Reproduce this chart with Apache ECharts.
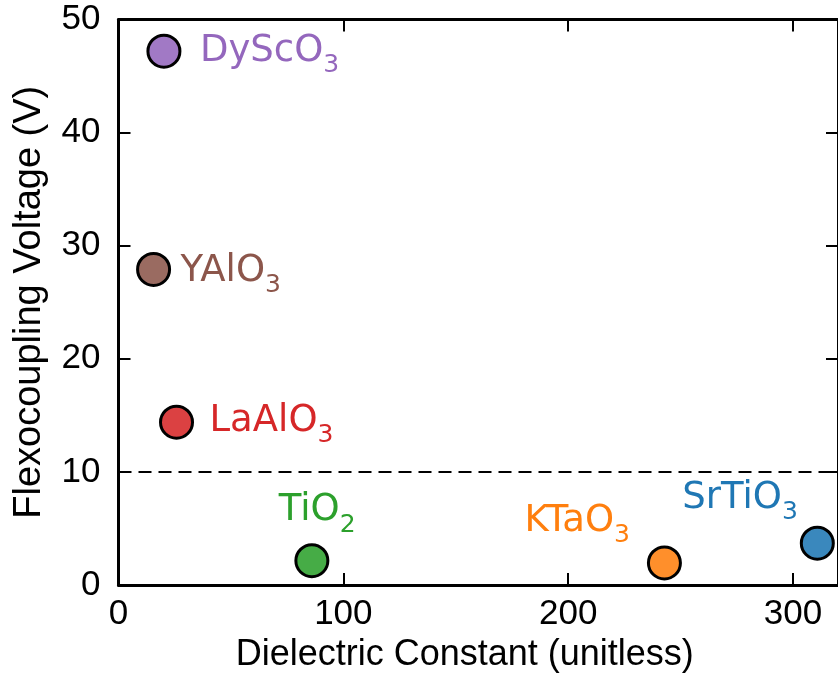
<!DOCTYPE html>
<html>
<head>
<meta charset="utf-8">
<script src="https://cdn.jsdelivr.net/npm/echarts@6/dist/echarts.min.js"></script>
<style>
html,body{margin:0;padding:0;background:#fff;}
#chart{width:838px;height:685px;}
</style>
</head>
<body>
<div id="chart"></div>
<script>
// Data
const materials = ['DyScO', 'YAlO', 'LaAlO', 'TiO', 'KTaO', 'SrTiO'];
const subscripts = ['3', '3', '3', '2', '3', '3'];
const dielectric = [20.2, 15.6, 25.8, 86.0, 242.8, 310.8];
const voltage = [47.2, 27.9, 14.4, 2.15, 1.95, 3.7];
const colors = ['#9467bd', '#8c564b', '#d62728', '#2ca02c', '#ff7f0e', '#1f77b4'];
const thresholdVoltage = 10;
const xTicks = [0, 100, 200, 300];
const yTicks = [0, 10, 20, 30, 40, 50];

// label offsets (style) relative to marker centre
const labelOffsets = [[36, 0], [27, 2], [33, -1], [-33, -50], [-140, -42], [-135, -45]];

function hexToRgba(hex, a) {
  const r = parseInt(hex.slice(1, 3), 16), g = parseInt(hex.slice(3, 5), 16), b = parseInt(hex.slice(5, 7), 16);
  return 'rgba(' + r + ',' + g + ',' + b + ',' + a + ')';
}

const richBase = (c) => ({
  m: { fontFamily: 'DejaVu Sans', fontSize: 37, color: c, lineHeight: 54, verticalAlign: 'middle' },
  s: { fontFamily: 'DejaVu Sans', fontSize: 25, color: c, lineHeight: 26, verticalAlign: 'bottom' }
});

const data = materials.map((m, i) => ({
  value: [dielectric[i], voltage[i]],
  itemStyle: { color: hexToRgba(colors[i], 0.88), borderColor: '#000', borderWidth: 3, opacity: 1 },
  label: {
    show: true,
    position: 'inside',
    align: 'left',
    verticalAlign: 'middle',
    offset: labelOffsets[i],
    formatter: '{m|' + m + '}{s|' + subscripts[i] + '}',
    rich: richBase(colors[i])
  }
}));

const axisLabelFont = { fontFamily: 'Liberation Sans, Arial, sans-serif', fontSize: 35, color: '#000' };

const chart = echarts.init(document.getElementById('chart'), null, { renderer: 'canvas' });
chart.setOption({
  animation: false,
  backgroundColor: '#fff',
  grid: { left: 118.5, top: 19.5, width: 723.4, height: 565.5, containLabel: false },
  xAxis: [{
    type: 'value', min: 0, max: 320, interval: 100,
    name: 'Dielectric Constant (unitless)', nameLocation: 'middle', nameGap: 50,
    nameTextStyle: Object.assign({}, axisLabelFont, { fontSize: 36, padding: [0, 27, 0, 0] }),
    axisLine: { show: true, lineStyle: { color: '#000', width: 3 } },
    axisTick: { show: true, inside: true, length: 12, lineStyle: { color: '#000', width: 2 } },
    axisLabel: Object.assign({ margin: 12, customValues: xTicks }, axisLabelFont),
    splitLine: { show: false }
  }, {
    type: 'value', min: 0, max: 320, interval: 100, position: 'top',
    axisLine: { show: true, onZero: false, lineStyle: { color: '#000', width: 3 } },
    axisTick: { show: true, inside: true, length: 12, lineStyle: { color: '#000', width: 2 } },
    axisLabel: { show: false }, splitLine: { show: false }
  }],
  yAxis: [{
    type: 'value', min: 0, max: 50, interval: 10,
    name: 'Flexocoupling Voltage (V)', nameLocation: 'middle', nameGap: 70,
    nameTextStyle: Object.assign({}, axisLabelFont, { fontSize: 38 }),
    axisLine: { show: true, lineStyle: { color: '#000', width: 3 } },
    axisTick: { show: true, inside: true, length: 12, lineStyle: { color: '#000', width: 2 } },
    axisLabel: Object.assign({ margin: 18, customValues: yTicks }, axisLabelFont),
    splitLine: { show: false }
  }, {
    type: 'value', min: 0, max: 50, interval: 10, position: 'right',
    axisLine: { show: true, onZero: false, lineStyle: { color: '#000', width: 3 } },
    axisTick: { show: true, inside: true, length: 12, lineStyle: { color: '#000', width: 2 } },
    axisLabel: { show: false }, splitLine: { show: false }
  }],
  series: [{
    type: 'scatter',
    symbol: 'circle',
    symbolSize: 32,
    data: data,
    z: 3,
    markLine: {
      silent: true,
      symbol: 'none',
      label: { show: false },
      lineStyle: { color: '#000', width: 2, type: [13, 7], opacity: 1 },
      data: [{ yAxis: thresholdVoltage }]
    }
  }]
});
</script>
</body>
</html>
